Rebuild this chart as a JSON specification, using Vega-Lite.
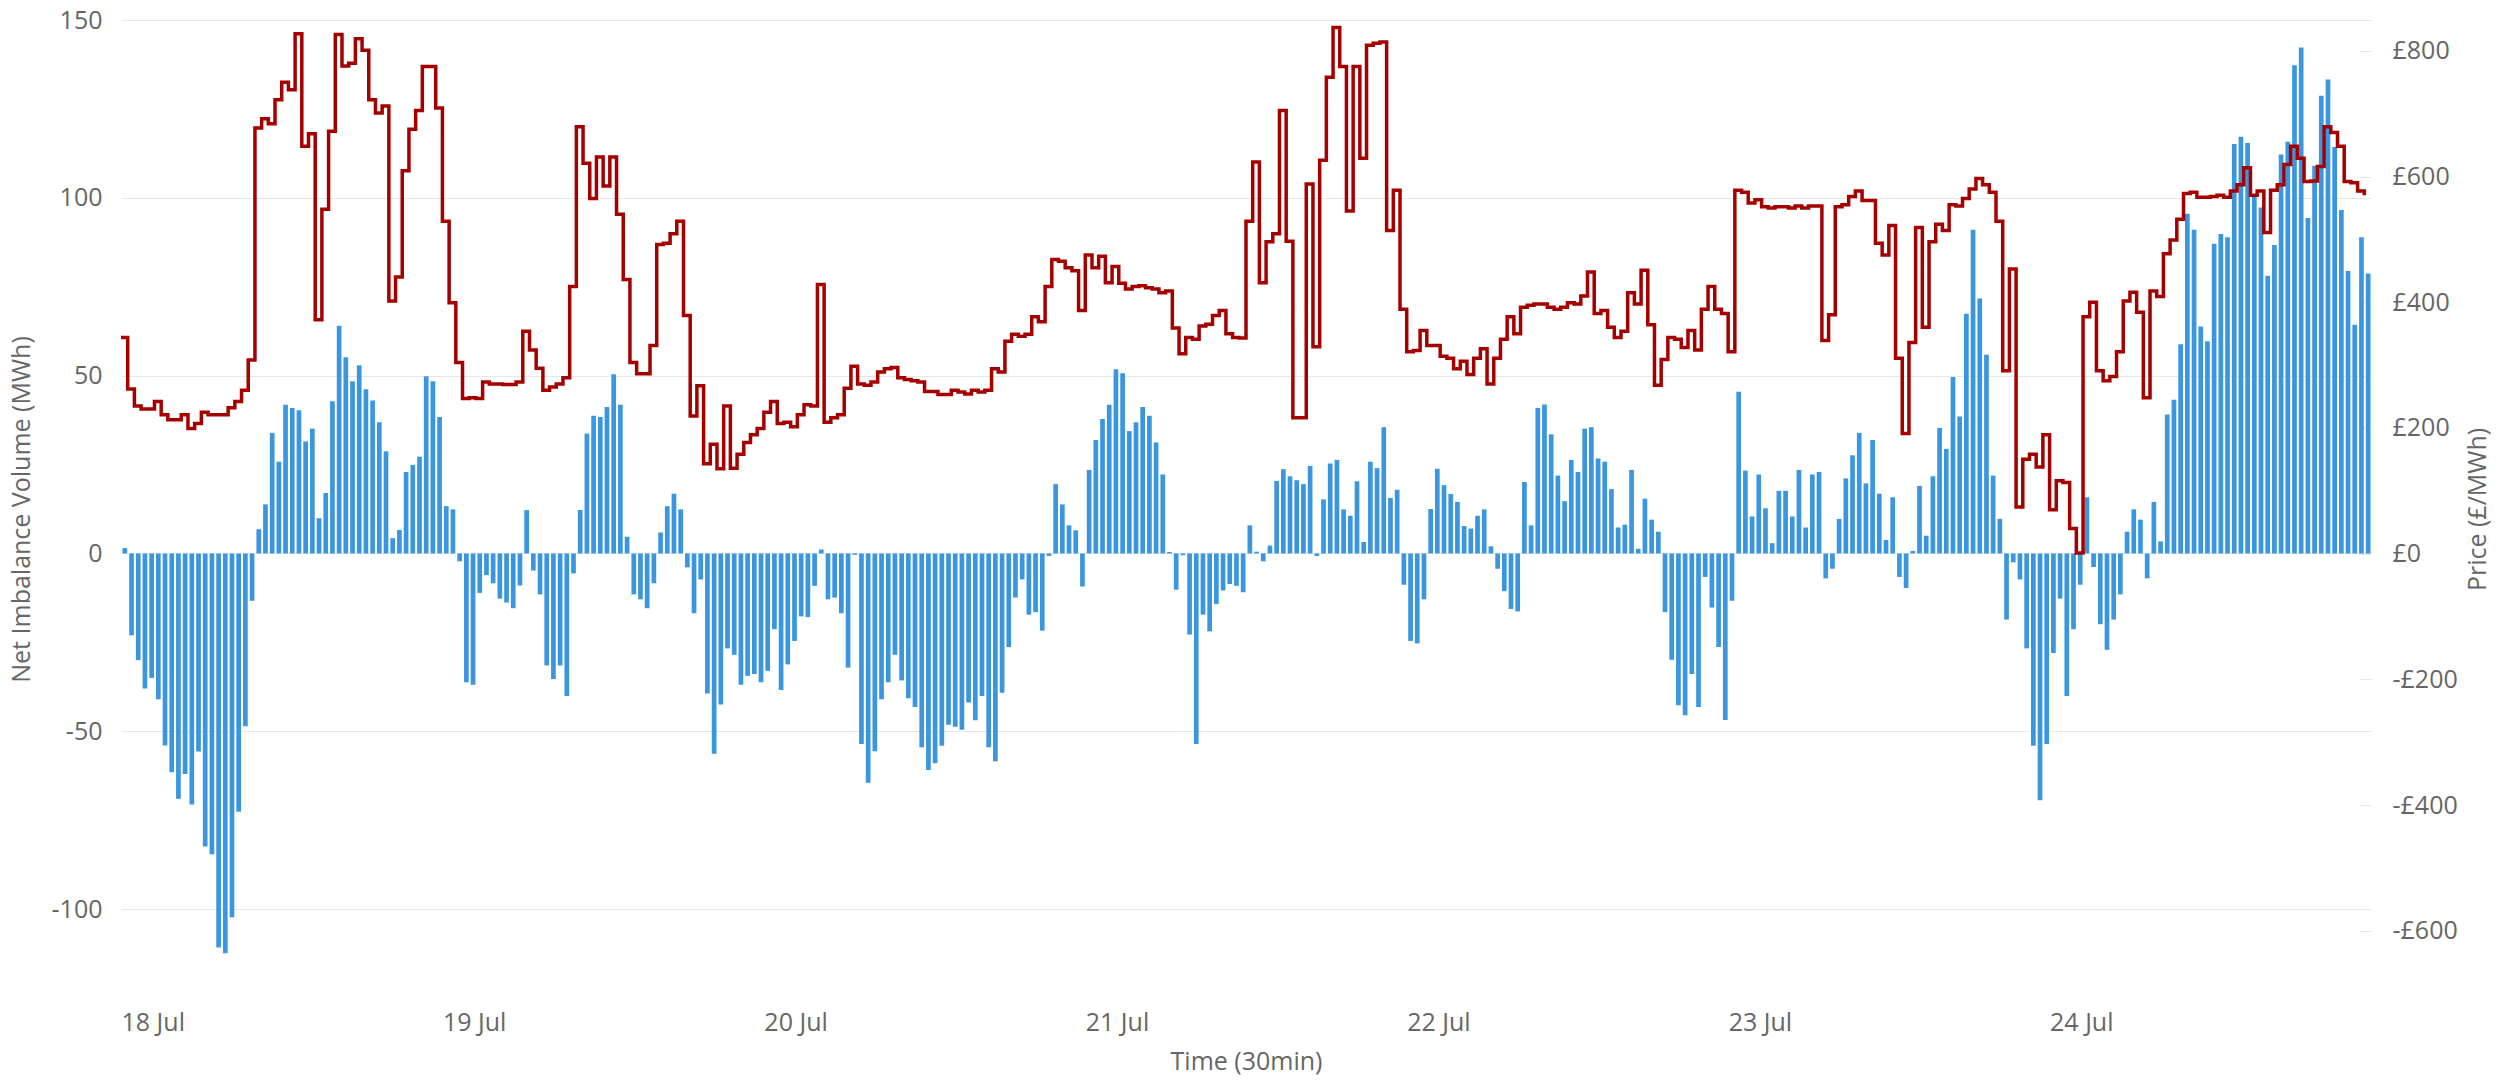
{
"$schema": "https://vega.github.io/schema/vega-lite/v6.json",
"width": 2250, "height": 978,
"autosize": {"type": "none"},
"padding": {"left": 121, "top": 20, "right": 125, "bottom": 83},
"background": "white",
"config": {"font": "Open Sans", "view": {"stroke": null}},
"data": {"values": [
{"t":"2022-07-18T00:00","v":1.5,"p":344},{"t":"2022-07-18T00:30","v":-23,"p":262},{"t":"2022-07-18T01:00","v":-30,"p":235},{"t":"2022-07-18T01:30","v":-38,"p":230},
{"t":"2022-07-18T02:00","v":-35,"p":230},{"t":"2022-07-18T02:30","v":-41,"p":242},{"t":"2022-07-18T03:00","v":-54,"p":221},{"t":"2022-07-18T03:30","v":-61.5,"p":213},
{"t":"2022-07-18T04:00","v":-69,"p":213},{"t":"2022-07-18T04:30","v":-62,"p":221},{"t":"2022-07-18T05:00","v":-70.6,"p":199},{"t":"2022-07-18T05:30","v":-55.7,"p":207},
{"t":"2022-07-18T06:00","v":-82.4,"p":225},{"t":"2022-07-18T06:30","v":-84.6,"p":221},{"t":"2022-07-18T07:00","v":-110.8,"p":221},{"t":"2022-07-18T07:30","v":-112.4,"p":221},
{"t":"2022-07-18T08:00","v":-102.3,"p":232},{"t":"2022-07-18T08:30","v":-72.6,"p":242},{"t":"2022-07-18T09:00","v":-48.6,"p":260},{"t":"2022-07-18T09:30","v":-13.3,"p":308},
{"t":"2022-07-18T10:00","v":6.8,"p":677},{"t":"2022-07-18T10:30","v":13.8,"p":692},{"t":"2022-07-18T11:00","v":33.9,"p":684},{"t":"2022-07-18T11:30","v":25.8,"p":722},
{"t":"2022-07-18T12:00","v":41.8,"p":750},{"t":"2022-07-18T12:30","v":40.9,"p":738},{"t":"2022-07-18T13:00","v":40.3,"p":827},{"t":"2022-07-18T13:30","v":31.5,"p":648},
{"t":"2022-07-18T14:00","v":35.1,"p":668},{"t":"2022-07-18T14:30","v":9.9,"p":372},{"t":"2022-07-18T15:00","v":17,"p":548},{"t":"2022-07-18T15:30","v":42.8,"p":672},
{"t":"2022-07-18T16:00","v":64,"p":826},{"t":"2022-07-18T16:30","v":55.2,"p":776},{"t":"2022-07-18T17:00","v":48.4,"p":780},{"t":"2022-07-18T17:30","v":52.9,"p":819},
{"t":"2022-07-18T18:00","v":46.2,"p":801},{"t":"2022-07-18T18:30","v":43,"p":722},{"t":"2022-07-18T19:00","v":36.9,"p":701},{"t":"2022-07-18T19:30","v":28.7,"p":712},
{"t":"2022-07-18T20:00","v":4.3,"p":402},{"t":"2022-07-18T20:30","v":6.6,"p":440},{"t":"2022-07-18T21:00","v":22.9,"p":609},{"t":"2022-07-18T21:30","v":24.9,"p":675},
{"t":"2022-07-18T22:00","v":27.2,"p":705},{"t":"2022-07-18T22:30","v":49.8,"p":775},{"t":"2022-07-18T23:00","v":48.4,"p":775},{"t":"2022-07-18T23:30","v":38.4,"p":709},
{"t":"2022-07-19T00:00","v":13.3,"p":529},{"t":"2022-07-19T00:30","v":12.4,"p":399},{"t":"2022-07-19T01:00","v":-2.2,"p":304},{"t":"2022-07-19T01:30","v":-36.2,"p":247},
{"t":"2022-07-19T02:00","v":-36.9,"p":248},{"t":"2022-07-19T02:30","v":-11.1,"p":247},{"t":"2022-07-19T03:00","v":-6.1,"p":273},{"t":"2022-07-19T03:30","v":-8.4,"p":270},
{"t":"2022-07-19T04:00","v":-12.7,"p":270},{"t":"2022-07-19T04:30","v":-13.8,"p":269},{"t":"2022-07-19T05:00","v":-15.4,"p":269},{"t":"2022-07-19T05:30","v":-9,"p":273},
{"t":"2022-07-19T06:00","v":12.2,"p":354},{"t":"2022-07-19T06:30","v":-4.8,"p":324},{"t":"2022-07-19T07:00","v":-11.5,"p":295},{"t":"2022-07-19T07:30","v":-31.5,"p":260},
{"t":"2022-07-19T08:00","v":-35.3,"p":265},{"t":"2022-07-19T08:30","v":-31.5,"p":270},{"t":"2022-07-19T09:00","v":-40.1,"p":280},{"t":"2022-07-19T09:30","v":-5.6,"p":425},
{"t":"2022-07-19T10:00","v":12.2,"p":679},{"t":"2022-07-19T10:30","v":33.7,"p":621},{"t":"2022-07-19T11:00","v":38.7,"p":565},{"t":"2022-07-19T11:30","v":38.4,"p":631},
{"t":"2022-07-19T12:00","v":41.2,"p":585},{"t":"2022-07-19T12:30","v":50.4,"p":631},{"t":"2022-07-19T13:00","v":41.8,"p":540},{"t":"2022-07-19T13:30","v":4.7,"p":436},
{"t":"2022-07-19T14:00","v":-11.5,"p":304},{"t":"2022-07-19T14:30","v":-12.9,"p":286},{"t":"2022-07-19T15:00","v":-15.4,"p":286},{"t":"2022-07-19T15:30","v":-8.4,"p":331},
{"t":"2022-07-19T16:00","v":5.9,"p":492},{"t":"2022-07-19T16:30","v":13.3,"p":494},{"t":"2022-07-19T17:00","v":16.8,"p":509},{"t":"2022-07-19T17:30","v":12.4,"p":529},
{"t":"2022-07-19T18:00","v":-3.9,"p":379},{"t":"2022-07-19T18:30","v":-16.8,"p":219},{"t":"2022-07-19T19:00","v":-7.3,"p":267},{"t":"2022-07-19T19:30","v":-39.4,"p":143},
{"t":"2022-07-19T20:00","v":-56.3,"p":174},{"t":"2022-07-19T20:30","v":-42.5,"p":135},{"t":"2022-07-19T21:00","v":-26.7,"p":235},{"t":"2022-07-19T21:30","v":-28.5,"p":136},
{"t":"2022-07-19T22:00","v":-36.9,"p":158},{"t":"2022-07-19T22:30","v":-34.4,"p":177},{"t":"2022-07-19T23:00","v":-33.9,"p":189},{"t":"2022-07-19T23:30","v":-36.2,"p":199},
{"t":"2022-07-20T00:00","v":-33,"p":225},{"t":"2022-07-20T00:30","v":-21.3,"p":242},{"t":"2022-07-20T01:00","v":-38.4,"p":207},{"t":"2022-07-20T01:30","v":-31.2,"p":209},
{"t":"2022-07-20T02:00","v":-24.6,"p":202},{"t":"2022-07-20T02:30","v":-17.7,"p":221},{"t":"2022-07-20T03:00","v":-17.9,"p":237},{"t":"2022-07-20T03:30","v":-9.1,"p":235},
{"t":"2022-07-20T04:00","v":1.1,"p":428},{"t":"2022-07-20T04:30","v":-12.9,"p":209},{"t":"2022-07-20T05:00","v":-12.4,"p":216},{"t":"2022-07-20T05:30","v":-16.8,"p":221},
{"t":"2022-07-20T06:00","v":-32.1,"p":263},{"t":"2022-07-20T06:30","v":-0.4,"p":298},{"t":"2022-07-20T07:00","v":-53.6,"p":270},{"t":"2022-07-20T07:30","v":-64.5,"p":268},
{"t":"2022-07-20T08:00","v":-55.6,"p":273},{"t":"2022-07-20T08:30","v":-41,"p":289},{"t":"2022-07-20T09:00","v":-36.2,"p":294},{"t":"2022-07-20T09:30","v":-28.5,"p":296},
{"t":"2022-07-20T10:00","v":-35.7,"p":280},{"t":"2022-07-20T10:30","v":-40.7,"p":277},{"t":"2022-07-20T11:00","v":-43.2,"p":275},{"t":"2022-07-20T11:30","v":-54.5,"p":273},
{"t":"2022-07-20T12:00","v":-60.9,"p":258},{"t":"2022-07-20T12:30","v":-59,"p":258},{"t":"2022-07-20T13:00","v":-54.1,"p":253},{"t":"2022-07-20T13:30","v":-48.2,"p":253},
{"t":"2022-07-20T14:00","v":-48.7,"p":260},{"t":"2022-07-20T14:30","v":-49.6,"p":257},{"t":"2022-07-20T15:00","v":-41.9,"p":254},{"t":"2022-07-20T15:30","v":-46.9,"p":260},
{"t":"2022-07-20T16:00","v":-40.1,"p":257},{"t":"2022-07-20T16:30","v":-54.5,"p":260},{"t":"2022-07-20T17:00","v":-58.4,"p":294},{"t":"2022-07-20T17:30","v":-39.2,"p":289},
{"t":"2022-07-20T18:00","v":-26.3,"p":338},{"t":"2022-07-20T18:30","v":-12.4,"p":349},{"t":"2022-07-20T19:00","v":-7.3,"p":346},{"t":"2022-07-20T19:30","v":-17.2,"p":349},
{"t":"2022-07-20T20:00","v":-16.5,"p":377},{"t":"2022-07-20T20:30","v":-21.7,"p":369},{"t":"2022-07-20T21:00","v":-0.7,"p":425},{"t":"2022-07-20T21:30","v":19.5,"p":468},
{"t":"2022-07-20T22:00","v":13.8,"p":465},{"t":"2022-07-20T22:30","v":7.9,"p":455},{"t":"2022-07-20T23:00","v":6.5,"p":450},{"t":"2022-07-20T23:30","v":-9.3,"p":387},
{"t":"2022-07-21T00:00","v":23.5,"p":475},{"t":"2022-07-21T00:30","v":31.9,"p":455},{"t":"2022-07-21T01:00","v":37.8,"p":473},{"t":"2022-07-21T01:30","v":41.8,"p":431},
{"t":"2022-07-21T02:00","v":51.8,"p":457},{"t":"2022-07-21T02:30","v":50.7,"p":430},{"t":"2022-07-21T03:00","v":34.4,"p":421},{"t":"2022-07-21T03:30","v":36.9,"p":425},
{"t":"2022-07-21T04:00","v":41.2,"p":426},{"t":"2022-07-21T04:30","v":38.7,"p":423},{"t":"2022-07-21T05:00","v":31.2,"p":421},{"t":"2022-07-21T05:30","v":22.2,"p":415},
{"t":"2022-07-21T06:00","v":0.4,"p":418},{"t":"2022-07-21T06:30","v":-10.2,"p":359},{"t":"2022-07-21T07:00","v":-0.5,"p":318},{"t":"2022-07-21T07:30","v":-22.8,"p":344},
{"t":"2022-07-21T08:00","v":-53.6,"p":341},{"t":"2022-07-21T08:30","v":-17.2,"p":362},{"t":"2022-07-21T09:00","v":-21.9,"p":365},{"t":"2022-07-21T09:30","v":-14.2,"p":379},
{"t":"2022-07-21T10:00","v":-10.4,"p":387},{"t":"2022-07-21T10:30","v":-8.6,"p":350},{"t":"2022-07-21T11:00","v":-9.1,"p":344},{"t":"2022-07-21T11:30","v":-10.9,"p":343},
{"t":"2022-07-21T12:00","v":7.9,"p":529},{"t":"2022-07-21T12:30","v":0.5,"p":623},{"t":"2022-07-21T13:00","v":-2.2,"p":431},{"t":"2022-07-21T13:30","v":2.2,"p":496},
{"t":"2022-07-21T14:00","v":20.4,"p":509},{"t":"2022-07-21T14:30","v":23.7,"p":705},{"t":"2022-07-21T15:00","v":21.7,"p":497},{"t":"2022-07-21T15:30","v":20.6,"p":216},
{"t":"2022-07-21T16:00","v":19.5,"p":216},{"t":"2022-07-21T16:30","v":24.6,"p":588},{"t":"2022-07-21T17:00","v":-0.7,"p":329},{"t":"2022-07-21T17:30","v":15.2,"p":626},
{"t":"2022-07-21T18:00","v":25.3,"p":758},{"t":"2022-07-21T18:30","v":26.3,"p":837},{"t":"2022-07-21T19:00","v":12.4,"p":775},{"t":"2022-07-21T19:30","v":10.6,"p":545},
{"t":"2022-07-21T20:00","v":20.3,"p":775},{"t":"2022-07-21T20:30","v":3.2,"p":629},{"t":"2022-07-21T21:00","v":25.8,"p":809},{"t":"2022-07-21T21:30","v":24,"p":812},
{"t":"2022-07-21T22:00","v":35.5,"p":814},{"t":"2022-07-21T22:30","v":15.6,"p":514},{"t":"2022-07-21T23:00","v":17.9,"p":578},{"t":"2022-07-21T23:30","v":-8.8,"p":389},
{"t":"2022-07-22T00:00","v":-24.6,"p":321},{"t":"2022-07-22T00:30","v":-25.3,"p":323},{"t":"2022-07-22T01:00","v":-12.9,"p":355},{"t":"2022-07-22T01:30","v":12.5,"p":331},
{"t":"2022-07-22T02:00","v":23.8,"p":331},{"t":"2022-07-22T02:30","v":19.2,"p":314},{"t":"2022-07-22T03:00","v":16.7,"p":311},{"t":"2022-07-22T03:30","v":14.5,"p":294},
{"t":"2022-07-22T04:00","v":7.7,"p":306},{"t":"2022-07-22T04:30","v":7,"p":285},{"t":"2022-07-22T05:00","v":10.6,"p":311},{"t":"2022-07-22T05:30","v":12.4,"p":326},
{"t":"2022-07-22T06:00","v":2,"p":270},{"t":"2022-07-22T06:30","v":-4.3,"p":311},{"t":"2022-07-22T07:00","v":-10.6,"p":341},{"t":"2022-07-22T07:30","v":-15.6,"p":377},
{"t":"2022-07-22T08:00","v":-16.3,"p":350},{"t":"2022-07-22T08:30","v":20.1,"p":392},{"t":"2022-07-22T09:00","v":7.9,"p":395},{"t":"2022-07-22T09:30","v":40.9,"p":397},
{"t":"2022-07-22T10:00","v":41.9,"p":397},{"t":"2022-07-22T10:30","v":33.5,"p":392},{"t":"2022-07-22T11:00","v":21.9,"p":389},{"t":"2022-07-22T11:30","v":14.7,"p":392},
{"t":"2022-07-22T12:00","v":26.3,"p":399},{"t":"2022-07-22T12:30","v":22.9,"p":397},{"t":"2022-07-22T13:00","v":35.1,"p":410},{"t":"2022-07-22T13:30","v":35.5,"p":448},
{"t":"2022-07-22T14:00","v":26.7,"p":382},{"t":"2022-07-22T14:30","v":25.8,"p":387},{"t":"2022-07-22T15:00","v":18.1,"p":360},{"t":"2022-07-22T15:30","v":7.3,"p":344},
{"t":"2022-07-22T16:00","v":8.1,"p":354},{"t":"2022-07-22T16:30","v":23.5,"p":415},{"t":"2022-07-22T17:00","v":1.3,"p":397},{"t":"2022-07-22T17:30","v":15.4,"p":451},
{"t":"2022-07-22T18:00","v":9.5,"p":364},{"t":"2022-07-22T18:30","v":6.1,"p":268},{"t":"2022-07-22T19:00","v":-16.5,"p":309},{"t":"2022-07-22T19:30","v":-29.9,"p":344},
{"t":"2022-07-22T20:00","v":-42.7,"p":341},{"t":"2022-07-22T20:30","v":-45.5,"p":328},{"t":"2022-07-22T21:00","v":-33.9,"p":355},{"t":"2022-07-22T21:30","v":-43.2,"p":324},
{"t":"2022-07-22T22:00","v":-6.6,"p":389},{"t":"2022-07-22T22:30","v":-15.2,"p":425},{"t":"2022-07-22T23:00","v":-26.3,"p":389},{"t":"2022-07-22T23:30","v":-46.8,"p":382},
{"t":"2022-07-23T00:00","v":-13.3,"p":321},{"t":"2022-07-23T00:30","v":45.5,"p":578},{"t":"2022-07-23T01:00","v":23.3,"p":575},{"t":"2022-07-23T01:30","v":10.4,"p":558},
{"t":"2022-07-23T02:00","v":22.2,"p":563},{"t":"2022-07-23T02:30","v":12.7,"p":552},{"t":"2022-07-23T03:00","v":2.9,"p":550},{"t":"2022-07-23T03:30","v":17.6,"p":552},
{"t":"2022-07-23T04:00","v":17.6,"p":552},{"t":"2022-07-23T04:30","v":10.4,"p":550},{"t":"2022-07-23T05:00","v":23.5,"p":553},{"t":"2022-07-23T05:30","v":7.3,"p":550},
{"t":"2022-07-23T06:00","v":22.2,"p":553},{"t":"2022-07-23T06:30","v":22.9,"p":553},{"t":"2022-07-23T07:00","v":-7,"p":339},{"t":"2022-07-23T07:30","v":-4.3,"p":380},
{"t":"2022-07-23T08:00","v":9.7,"p":552},{"t":"2022-07-23T08:30","v":21.1,"p":555},{"t":"2022-07-23T09:00","v":27.6,"p":568},{"t":"2022-07-23T09:30","v":33.9,"p":577},
{"t":"2022-07-23T10:00","v":19.7,"p":562},{"t":"2022-07-23T10:30","v":31.9,"p":562},{"t":"2022-07-23T11:00","v":16.8,"p":494},{"t":"2022-07-23T11:30","v":3.8,"p":475},
{"t":"2022-07-23T12:00","v":15.8,"p":522},{"t":"2022-07-23T12:30","v":-6.6,"p":311},{"t":"2022-07-23T13:00","v":-9.7,"p":191},{"t":"2022-07-23T13:30","v":0.7,"p":336},
{"t":"2022-07-23T14:00","v":19,"p":519},{"t":"2022-07-23T14:30","v":5,"p":360},{"t":"2022-07-23T15:00","v":21.7,"p":496},{"t":"2022-07-23T15:30","v":35.3,"p":524},
{"t":"2022-07-23T16:00","v":29.4,"p":514},{"t":"2022-07-23T16:30","v":49.6,"p":555},{"t":"2022-07-23T17:00","v":38.5,"p":553},{"t":"2022-07-23T17:30","v":67.4,"p":565},
{"t":"2022-07-23T18:00","v":91,"p":580},{"t":"2022-07-23T18:30","v":71.7,"p":597},{"t":"2022-07-23T19:00","v":55.9,"p":587},{"t":"2022-07-23T19:30","v":21.9,"p":575},
{"t":"2022-07-23T20:00","v":9.7,"p":529},{"t":"2022-07-23T20:30","v":-18.6,"p":291},{"t":"2022-07-23T21:00","v":-2.5,"p":453},{"t":"2022-07-23T21:30","v":-7.3,"p":74},
{"t":"2022-07-23T22:00","v":-26.7,"p":150},{"t":"2022-07-23T22:30","v":-54.1,"p":158},{"t":"2022-07-23T23:00","v":-69.4,"p":138},{"t":"2022-07-23T23:30","v":-53.6,"p":189},
{"t":"2022-07-24T00:00","v":-28,"p":70},{"t":"2022-07-24T00:30","v":-12.7,"p":116},{"t":"2022-07-24T01:00","v":-40.1,"p":113},{"t":"2022-07-24T01:30","v":-21.3,"p":40},
{"t":"2022-07-24T02:00","v":-8.8,"p":1},{"t":"2022-07-24T02:30","v":15.8,"p":377},{"t":"2022-07-24T03:00","v":-3.8,"p":400},{"t":"2022-07-24T03:30","v":-19.9,"p":291},
{"t":"2022-07-24T04:00","v":-27.1,"p":275},{"t":"2022-07-24T04:30","v":-18.6,"p":282},{"t":"2022-07-24T05:00","v":-11.5,"p":321},{"t":"2022-07-24T05:30","v":6.1,"p":402},
{"t":"2022-07-24T06:00","v":12.4,"p":416},{"t":"2022-07-24T06:30","v":9.5,"p":384},{"t":"2022-07-24T07:00","v":-7,"p":248},{"t":"2022-07-24T07:30","v":14.5,"p":418},
{"t":"2022-07-24T08:00","v":3.4,"p":409},{"t":"2022-07-24T08:30","v":39.1,"p":477},{"t":"2022-07-24T09:00","v":43.2,"p":499},{"t":"2022-07-24T09:30","v":58.8,"p":532},
{"t":"2022-07-24T10:00","v":95.5,"p":573},{"t":"2022-07-24T10:30","v":91,"p":575},{"t":"2022-07-24T11:00","v":63.8,"p":567},{"t":"2022-07-24T11:30","v":59.7,"p":567},
{"t":"2022-07-24T12:00","v":87.1,"p":568},{"t":"2022-07-24T12:30","v":89.8,"p":570},{"t":"2022-07-24T13:00","v":88.9,"p":567},{"t":"2022-07-24T13:30","v":115.1,"p":577},
{"t":"2022-07-24T14:00","v":117.2,"p":587},{"t":"2022-07-24T14:30","v":115.4,"p":614},{"t":"2022-07-24T15:00","v":101.1,"p":570},{"t":"2022-07-24T15:30","v":97.3,"p":577},
{"t":"2022-07-24T16:00","v":78.1,"p":511},{"t":"2022-07-24T16:30","v":86.7,"p":578},{"t":"2022-07-24T17:00","v":112.2,"p":587},{"t":"2022-07-24T17:30","v":115.8,"p":619},
{"t":"2022-07-24T18:00","v":137.3,"p":648},{"t":"2022-07-24T18:30","v":142.3,"p":629},{"t":"2022-07-24T19:00","v":94.3,"p":592},{"t":"2022-07-24T19:30","v":109,"p":593},
{"t":"2022-07-24T20:00","v":128.7,"p":616},{"t":"2022-07-24T20:30","v":133.3,"p":679},{"t":"2022-07-24T21:00","v":114.3,"p":670},{"t":"2022-07-24T21:30","v":96.6,"p":648},
{"t":"2022-07-24T22:00","v":79.4,"p":592},{"t":"2022-07-24T22:30","v":64.3,"p":590},{"t":"2022-07-24T23:00","v":88.9,"p":577},{"t":"2022-07-24T23:30","v":78.7,"p":570}
]},
"layer": [
{"mark": {"type": "bar", "color": "#3a96df", "binSpacing": 2},
 "encoding": {
  "x": {"field": "t", "type": "temporal", "timeUnit": {"unit": "yearmonthdatehoursminutes", "step": 30},
        "scale": {"domain": [{"year": 2022, "month": "jul", "date": 18}, {"year": 2022, "month": "jul", "date": 25}]},
        "title": "Time (30min)",
        "axis": {"values": [{"year": 2022, "month": "jul", "date": 18}, {"year": 2022, "month": "jul", "date": 19}, {"year": 2022, "month": "jul", "date": 20}, {"year": 2022, "month": "jul", "date": 21}, {"year": 2022, "month": "jul", "date": 22}, {"year": 2022, "month": "jul", "date": 23}, {"year": 2022, "month": "jul", "date": 24}],
                 "format": "%-d %b", "labelAlign": "left", "labelFlush": false, "grid": false, "ticks": false, "domain": false,
                 "labelPadding": 12, "labelFontSize": 25, "labelColor": "#666666", "labelFont": "Open Sans",
                 "titleFontSize": 25, "titleColor": "#666666", "titleFontWeight": "normal", "titleFont": "Open Sans", "titlePadding": 14}},
  "y": {"field": "v", "type": "quantitative", "title": "Net Imbalance Volume (MWh)",
        "scale": {"domain": [-125, 150], "nice": false, "zero": false},
        "axis": {"values": [-100, -50, 0, 50, 100, 150], "labelExpr": "(datum.value < 0 ? '-' : '') + abs(datum.value)",
                 "grid": true, "gridColor": "#e6e6e6", "gridWidth": 1, "domain": false, "ticks": false,
                 "labelPadding": 19, "labelFontSize": 25, "labelColor": "#666666", "labelFont": "Open Sans",
                 "titleFontSize": 25, "titleColor": "#666666", "titleFontWeight": "normal", "titleFont": "Open Sans", "titlePadding": 17}}
 }},
{"mark": {"type": "line", "color": "#a50000", "strokeWidth": 3.5, "interpolate": "step-after"},
 "encoding": {
  "x": {"field": "t", "type": "temporal"},
  "y": {"field": "p", "type": "quantitative", "title": "Price (£/MWh)",
        "scale": {"domain": [-707, 849], "nice": false, "zero": false},
        "axis": {"orient": "right", "values": [-600, -400, -200, 0, 200, 400, 600, 800], "labelExpr": "(datum.value < 0 ? '-£' : '£') + abs(datum.value)",
                 "grid": false, "domain": false, "ticks": true, "tickColor": "#e6e6e6", "tickSize": 12, "tickWidth": 1, "offset": -12,
                 "labelPadding": 21, "labelFontSize": 25, "labelColor": "#666666", "labelFont": "Open Sans",
                 "titleFontSize": 25, "titleColor": "#666666", "titleFontWeight": "normal", "titleFont": "Open Sans", "titlePadding": 8,
                 "titleAngle": -90, "titleBaseline": "top"}}
 }}
],
"resolve": {"scale": {"y": "independent"}, "axis": {"y": "independent"}}
}
